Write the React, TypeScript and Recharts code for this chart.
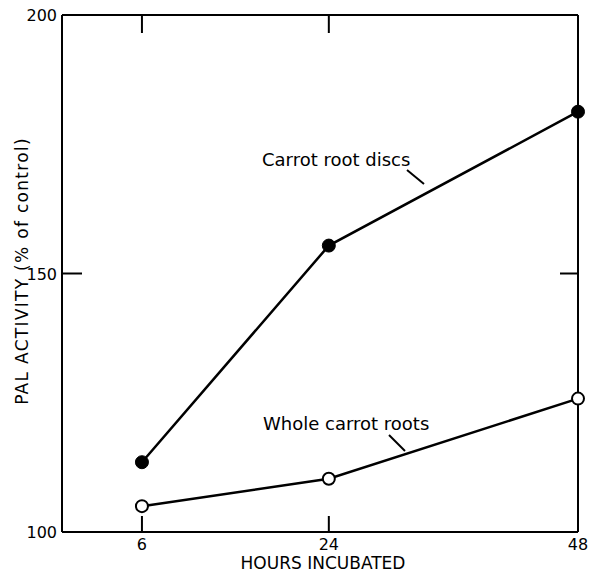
import React from 'react';
import { LineChart, Line, XAxis, YAxis } from 'recharts';

const hours = [6, 24, 48];
const rootDiscs = [113.5, 155.4, 181.3];
const wholeRoots = [105.0, 110.3, 125.8];
const xTicks = [6, 24, 48];
const xTopTicks = [6, 24];
const yTicks = [100, 150, 200];
const yRightTicks = [150];

const data = hours.map((h, i) => ({ h, discs: rootDiscs[i], whole: wholeRoots[i] }));

const FONT = '"DejaVu Sans", sans-serif';

const BottomTick = (props: any) => {
  const { x, y, payload } = props;
  return (
    <g>
      <line x1={x} y1={y} x2={x} y2={y - 16} stroke="#000" strokeWidth={2} />
      <text x={x} y={y + 18} textAnchor="middle" fontSize={16} fontFamily={FONT} fill="#000">
        {payload.value}
      </text>
    </g>
  );
};

const TopTick = (props: any) => {
  const { x, y } = props;
  return <line x1={x} y1={y} x2={x} y2={y + 18} stroke="#000" strokeWidth={2} />;
};

const LeftTick = (props: any) => {
  const { x, y, payload } = props;
  return (
    <g>
      <line x1={x} y1={y} x2={x + 20} y2={y} stroke="#000" strokeWidth={2} />
      <text x={x - 5} y={y + 6} textAnchor="end" fontSize={16} fontFamily={FONT} fill="#000">
        {payload.value}
      </text>
    </g>
  );
};

const RightTick = (props: any) => {
  const { x, y } = props;
  return <line x1={x} y1={y} x2={x - 18} y2={y} stroke="#000" strokeWidth={2} />;
};

const FilledDot = (props: any) => {
  const { cx, cy } = props;
  return <circle cx={cx} cy={cy} r={6.5} fill="#000" stroke="#000" />;
};

const OpenDot = (props: any) => {
  const { cx, cy } = props;
  return <circle cx={cx} cy={cy} r={6} fill="#fff" stroke="#000" strokeWidth={2} />;
};

export default function App() {
  return (
    <div style={{ position: 'absolute', left: 0, top: 0, width: 590, height: 573, background: '#fff' }}>
      <LineChart width={590} height={573} data={data} margin={{ top: 0, right: 0, bottom: 0, left: 0 }}>
        <XAxis
          xAxisId="bottom"
          dataKey="h"
          type="number"
          domain={[-1.7, 48]}
          ticks={xTicks}
          interval={0}
          height={41}
          tickSize={0}
          tickMargin={0}
          tickLine={false}
          axisLine={{ stroke: '#000', strokeWidth: 2 }}
          tick={<BottomTick />}
          label={{
            content: () => (
              <text x={323} y={569} textAnchor="middle" fontSize={17} fontFamily={FONT} fill="#000">
                HOURS INCUBATED
              </text>
            ),
          }}
        />
        <XAxis
          xAxisId="top"
          orientation="top"
          dataKey="h"
          type="number"
          domain={[-1.7, 48]}
          ticks={xTopTicks}
          interval={0}
          height={15}
          tickSize={0}
          tickMargin={0}
          tickLine={false}
          axisLine={{ stroke: '#000', strokeWidth: 2 }}
          tick={<TopTick />}
        />
        <YAxis
          yAxisId="left"
          type="number"
          domain={[100, 200]}
          ticks={yTicks}
          interval={0}
          width={62}
          tickSize={0}
          tickMargin={0}
          tickLine={false}
          axisLine={{ stroke: '#000', strokeWidth: 2 }}
          tick={<LeftTick />}
          label={{
            content: () => (
              <text
                x={28}
                y={271}
                textAnchor="middle"
                fontSize={17}
                letterSpacing={1.3}
                fontFamily={FONT}
                fill="#000"
                transform="rotate(-90 28 271)"
              >
                PAL ACTIVITY (% of control)
              </text>
            ),
          }}
        />
        <YAxis
          yAxisId="right"
          orientation="right"
          dataKey="discs"
          type="number"
          domain={[100, 200]}
          ticks={yRightTicks}
          interval={0}
          width={12}
          tickSize={0}
          tickMargin={0}
          tickLine={false}
          axisLine={{ stroke: '#000', strokeWidth: 2 }}
          tick={<RightTick />}
        />
        <Line
          xAxisId="bottom"
          yAxisId="left"
          dataKey="discs"
          stroke="#000"
          strokeWidth={2.5}
          dot={<FilledDot />}
          activeDot={false}
          isAnimationActive={false}
        />
        <Line
          xAxisId="bottom"
          yAxisId="left"
          dataKey="whole"
          stroke="#000"
          strokeWidth={2.5}
          dot={<OpenDot />}
          activeDot={false}
          isAnimationActive={false}
        />
      </LineChart>
      <svg
        width={590}
        height={573}
        style={{ position: 'absolute', left: 0, top: 0, pointerEvents: 'none' }}
      >
        <text x={262} y={166} fontSize={18} fontFamily={FONT} fill="#000">
          Carrot root discs
        </text>
        <line x1={407} y1={170} x2={424} y2={184} stroke="#000" strokeWidth={2} />
        <text x={263} y={430} fontSize={18} fontFamily={FONT} fill="#000">
          Whole carrot roots
        </text>
        <line x1={389} y1={435} x2={405} y2={451} stroke="#000" strokeWidth={2} />
      </svg>
    </div>
  );
}
